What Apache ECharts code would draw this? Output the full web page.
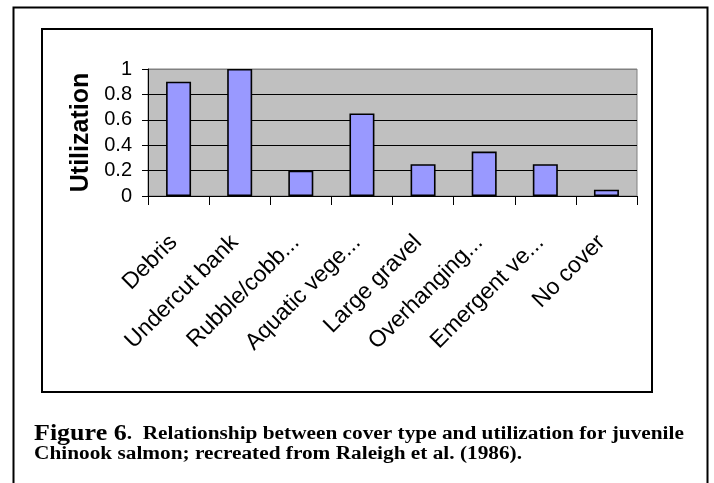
<!DOCTYPE html>
<html>
<head>
<meta charset="utf-8">
<script src="https://cdn.jsdelivr.net/npm/echarts@6/dist/echarts.min.js"></script>
<style>
  html, body { margin: 0; padding: 0; background: #fff; }
  #chart { width: 714px; height: 483px; }
</style>
</head>
<body>
<div id="chart"></div>
<script>
  // cover types as shown (labels truncated in the original)
  const categories = ['Debris', 'Undercut bank', 'Rubble/cobb...', 'Aquatic vege...',
    'Large gravel', 'Overhanging...', 'Emergent ve...', 'No cover'];
  const utilization = [0.9, 1.0, 0.2, 0.65, 0.25, 0.35, 0.25, 0.05];
  const yTicks = [0, 0.2, 0.4, 0.6, 0.8, 1];

  const chart = echarts.init(document.getElementById('chart'));

  const serif = 'Liberation Serif, Times New Roman';

  const option = {
    animation: false,
    backgroundColor: '#fff',
    grid: {
      left: 148,
      top: 69,
      right: 77,
      bottom: 287,
      show: true,
      backgroundColor: '#c0c0c0',
      borderColor: '#808080',
      borderWidth: 1
    },
    xAxis: {
      type: 'category',
      data: categories,
      boundaryGap: true,
      axisLine: { lineStyle: { color: '#000', width: 1 } },
      axisTick: { show: true, length: 9, lineStyle: { color: '#000' } },
      axisLabel: {
        rotate: 45,
        margin: 38,
        padding: [0, 7, 0, 0],
        color: '#000',
        fontFamily: 'Liberation Sans, Arial',
        fontSize: 23
      }
    },
    yAxis: {
      type: 'value',
      min: yTicks[0],
      max: yTicks[yTicks.length - 1],
      interval: 0.2,
      name: 'Utilization',
      nameLocation: 'middle',
      nameRotate: 90,
      nameGap: 54,
      nameTextStyle: {
        color: '#000',
        fontFamily: 'Liberation Sans, Arial',
        fontWeight: 'bold',
        fontSize: 25
      },
      axisLine: { show: true, lineStyle: { color: '#000', width: 1 } },
      axisTick: { show: true, length: 6, lineStyle: { color: '#000' } },
      axisLabel: {
        margin: 16,
        color: '#000',
        fontFamily: 'Liberation Sans, Arial',
        fontSize: 20,
        formatter: v => String(+v.toFixed(1))
      },
      splitLine: {
        show: true,
        lineStyle: { color: ['#000', '#000', '#000', '#000', '#000', '#808080'], width: 1 }
      }
    },
    series: [{
      type: 'bar',
      data: utilization,
      barWidth: 25,
      itemStyle: { color: '#9999ff', borderColor: '#000', borderWidth: 1.6 }
    }],
    graphic: [
      { type: 'rect', shape: { x: 13.5, y: 7.5, width: 694, height: 490 },
        style: { fill: 'none', stroke: '#000', lineWidth: 2 }, z: 10 },
      { type: 'rect', shape: { x: 42, y: 29, width: 610, height: 363 },
        style: { fill: 'none', stroke: '#000', lineWidth: 2 }, z: 10 },
      {
        type: 'text', x: 34, y: 423, scaleY: 0.85, z: 10,
        style: {
          text: '{big|Figure 6}{small|.  Relationship between cover type and utilization for juvenile}',
          rich: {
            big: { fontFamily: serif, fontWeight: 'bold', fontSize: 26, fill: '#000' },
            small: { fontFamily: serif, fontWeight: 'bold', fontSize: 21.3, fill: '#000' }
          }
        }
      },
      {
        type: 'text', x: 34, y: 445, scaleY: 0.85, z: 10,
        style: {
          text: 'Chinook salmon; recreated from Raleigh et al. (1986).',
          fontFamily: serif, fontWeight: 'bold', fontSize: 21.3, fill: '#000'
        }
      }
    ]
  };

  chart.setOption(option);
</script>
</body>
</html>
